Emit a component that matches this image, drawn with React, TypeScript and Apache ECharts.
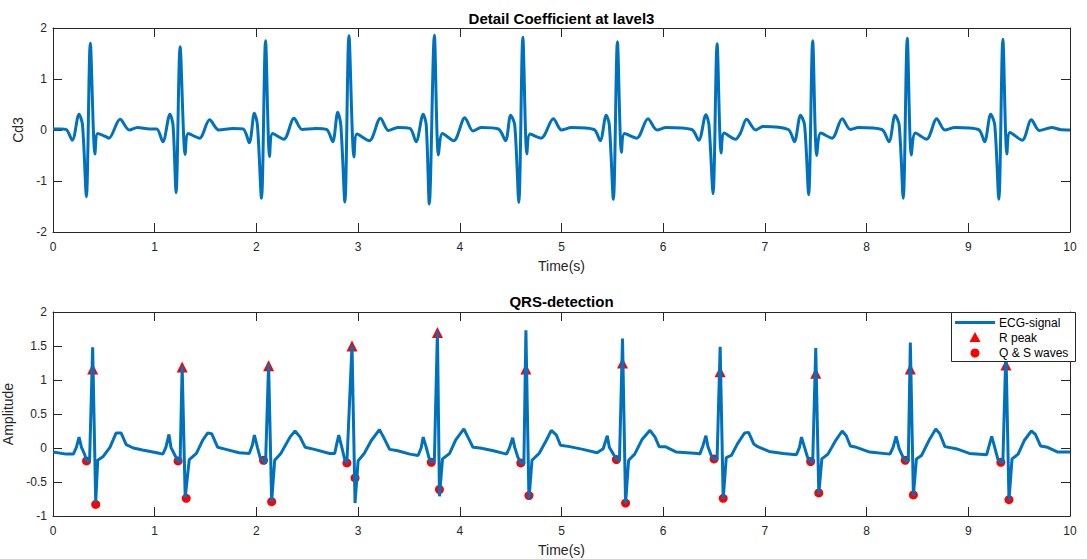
import React, { useEffect, useRef } from "react";
import * as echarts from "echarts";

// Top panel: detail coefficient Cd3 [time(s), value]
const cd3Points: [number, number][] = [
  [0, 0.02], [0.08, 0.02], [0.13, 0.01], [0.19, -0.2], [0.256, 0.31], [0.29, 0.1], [0.328, -1.31], [0.367, 1.7], [0.413, -0.47], [0.44, -0.07], [0.52, -0.13], [0.55, -0.16], [0.66, 0.21], [0.75, 0], [0.83, 0.05], [0.95, 0.02], [1.02, 0.02],
  [1.08, -0.23], [1.15, 0.31], [1.18, 0.1], [1.21, -1.23], [1.25, 1.63], [1.3, -0.48], [1.33, -0.07], [1.44, -0.16], [1.54, 0.2], [1.63, 0], [1.77, 0.03], [1.87, 0.02],
  [1.93, -0.25], [1.98, 0.33], [2.01, 0.1], [2.05, -1.34], [2.09, 1.75], [2.13, -0.52], [2.16, -0.07], [2.27, -0.18], [2.37, 0.23], [2.45, 0.01], [2.58, 0.03], [2.69, 0.01],
  [2.75, -0.23], [2.8, 0.35], [2.83, 0.1], [2.87, -1.41], [2.91, 1.85], [2.96, -0.53], [2.99, -0.08], [3.11, -0.21], [3.22, 0.23], [3.3, -0.01], [3.39, 0.05], [3.51, 0.03],
  [3.57, -0.23], [3.64, 0.31], [3.67, 0.1], [3.7, -1.45], [3.75, 1.86], [3.79, -0.49], [3.83, -0.07], [3.94, -0.21], [4.05, 0.24], [4.13, -0.02], [4.21, 0.05], [4.38, 0.02],
  [4.45, -0.21], [4.5, 0.29], [4.54, 0.1], [4.58, -1.42], [4.62, 1.82], [4.66, -0.47], [4.69, -0.08], [4.8, -0.16], [4.92, 0.22], [5.0, 0], [5.1, 0.05], [5.32, 0.01],
  [5.38, -0.21], [5.44, 0.29], [5.47, 0.1], [5.51, -1.36], [5.55, 1.73], [5.59, -0.44], [5.62, -0.07], [5.74, -0.16], [5.85, 0.22], [5.94, 0], [6.03, 0.05], [6.28, 0.01],
  [6.35, -0.2], [6.42, 0.3], [6.45, 0.1], [6.49, -1.25], [6.53, 1.69], [6.57, -0.45], [6.6, -0.06], [6.71, -0.18], [6.76, -0.06], [6.82, 0.21], [6.91, 0], [6.98, 0.07], [7.23, 0.01],
  [7.29, -0.23], [7.35, 0.29], [7.39, 0.1], [7.43, -1.27], [7.47, 1.75], [7.51, -0.5], [7.55, -0.06], [7.66, -0.16], [7.76, 0.22], [7.84, 0.01], [7.92, 0.05], [8.15, 0.01],
  [8.22, -0.23], [8.28, 0.29], [8.32, 0.1], [8.36, -1.34], [8.4, 1.8], [8.44, -0.49], [8.48, -0.06], [8.59, -0.18], [8.69, 0.22], [8.77, 0], [8.87, 0.05], [9.1, 0.01],
  [9.16, -0.23], [9.22, 0.31], [9.26, 0.1], [9.3, -1.36], [9.34, 1.78], [9.38, -0.47], [9.41, -0.05], [9.53, -0.2], [9.62, 0.2], [9.7, -0.01], [9.82, 0.05], [9.9, 0.01], [10, 0],
];

// Bottom panel: ECG signal [time(s), amplitude]
const ecgPoints: [number, number][] = [
  [0, -0.06], [0.13, -0.09], [0.2, -0.09], [0.23, 0.01], [0.256, 0.16], [0.28, 0.01], [0.31, -0.09], [0.33, -0.19], [0.36, -0.18], [0.39, 1.48], [0.42, -0.8], [0.44, -0.18], [0.49, -0.13], [0.56, 0.01], [0.62, 0.22], [0.67, 0.22], [0.72, 0.05], [0.79, 0], [0.88, -0.03], [1.02, -0.07], [1.08, -0.09],
  [1.11, 0.01], [1.14, 0.2], [1.16, 0.01], [1.2, -0.11], [1.23, -0.19], [1.25, -0.19], [1.27, 1.2], [1.3, -0.73], [1.34, -0.17], [1.41, -0.08], [1.47, 0.11], [1.52, 0.22], [1.56, 0.21], [1.62, 0.01], [1.7, -0.02], [1.83, -0.07], [1.93, -0.08],
  [1.96, 0.04], [1.98, 0.19], [2.01, 0.01], [2.04, -0.16], [2.07, -0.18], [2.09, -0.23], [2.12, 1.23], [2.15, -0.79], [2.18, -0.18], [2.24, -0.08], [2.33, 0.16], [2.38, 0.25], [2.43, 0.16], [2.48, 0.01], [2.57, -0.02], [2.72, -0.08], [2.77, -0.08],
  [2.79, 0.06], [2.81, 0.19], [2.84, 0.01], [2.87, -0.18], [2.89, -0.22], [2.94, 1.51], [2.97, -0.81], [3.0, -0.19], [3.06, -0.08], [3.13, 0.11], [3.21, 0.27], [3.25, 0.16], [3.31, -0.02], [3.39, -0.04], [3.51, -0.09], [3.59, -0.11],
  [3.62, 0.0], [3.64, 0.16], [3.67, 0.01], [3.7, -0.16], [3.72, -0.21], [3.75, -0.18], [3.78, 1.72], [3.8, -0.71], [3.83, -0.16], [3.9, -0.08], [3.96, 0.12], [4.04, 0.28], [4.08, 0.16], [4.13, 0.01], [4.2, 0], [4.33, -0.04], [4.46, -0.09],
  [4.49, 0.01], [4.52, 0.15], [4.54, 0.01], [4.57, -0.13], [4.6, -0.22], [4.63, -0.23], [4.65, 1.73], [4.68, -0.76], [4.71, -0.18], [4.78, -0.08], [4.85, 0.11], [4.9, 0.26], [4.95, 0.19], [4.99, 0.04], [5.08, 0.02], [5.21, -0.02], [5.35, -0.07],
  [5.41, -0.01], [5.45, 0.18], [5.47, 0.01], [5.51, -0.09], [5.54, -0.17], [5.57, -0.18], [5.6, 1.61], [5.63, -0.82], [5.66, -0.18], [5.72, -0.09], [5.79, 0.12], [5.87, 0.26], [5.92, 0.16], [5.96, 0.02], [6.02, 0.02], [6.13, -0.06], [6.34, -0.08],
  [6.36, -0.09], [6.39, 0.03], [6.42, 0.18], [6.44, 0.02], [6.48, -0.14], [6.5, -0.16], [6.53, -0.16], [6.56, 1.49], [6.59, -0.75], [6.62, -0.14], [6.67, -0.11], [6.73, 0.06], [6.8, 0.22], [6.84, 0.23], [6.89, 0.06], [6.93, 0.02], [7.04, -0.05], [7.18, -0.08], [7.31, -0.1],
  [7.34, 0.01], [7.36, 0.16], [7.39, 0.01], [7.42, -0.14], [7.45, -0.2], [7.47, -0.21], [7.5, 1.47], [7.53, -0.68], [7.56, -0.16], [7.62, -0.09], [7.7, 0.12], [7.76, 0.25], [7.8, 0.18], [7.84, 0.03], [7.9, 0.01], [8.03, -0.06], [8.23, -0.09],
  [8.26, 0.01], [8.29, 0.17], [8.32, -0.01], [8.36, -0.14], [8.38, -0.18], [8.41, -0.19], [8.43, 1.55], [8.46, -0.7], [8.49, -0.16], [8.54, -0.11], [8.62, 0.13], [8.68, 0.28], [8.72, 0.21], [8.77, 0.02], [8.88, -0.01], [9.01, -0.08], [9.18, -0.1],
  [9.2, 0.01], [9.23, 0.17], [9.26, 0.01], [9.29, -0.16], [9.32, -0.21], [9.34, -0.21], [9.37, 1.45], [9.4, -0.77], [9.43, -0.16], [9.49, -0.09], [9.55, 0.11], [9.62, 0.25], [9.66, 0.2], [9.71, 0.03], [9.78, 0.01], [9.88, -0.06], [10, -0.06],
];

// Detected R peaks
const rPeakPoints: [number, number][] = [
  [0.39, 1.16], [1.27, 1.19], [2.12, 1.21], [2.94, 1.5], [3.78, 1.7], [4.65, 1.16],
  [5.6, 1.25], [6.56, 1.12], [7.5, 1.1], [8.43, 1.16], [9.37, 1.22],
];

// Detected Q and S waves
const qsPoints: [number, number][] = [
  [0.33, -0.19], [1.23, -0.19], [2.07, -0.18], [2.89, -0.22], [3.72, -0.21], [4.6, -0.22],
  [5.54, -0.17], [6.5, -0.16], [7.45, -0.2], [8.38, -0.18], [9.32, -0.21],
  [0.42, -0.83], [1.31, -0.74], [2.15, -0.79], [2.97, -0.44], [3.8, -0.61], [4.68, -0.7],
  [5.63, -0.81], [6.59, -0.74], [7.53, -0.66], [8.46, -0.69], [9.4, -0.76],
];

const titles = ["Detail Coefficient at lavel3", "QRS-detection"];
const legendNames = ["ECG-signal", "R peak", "Q & S waves"];

const AX = "#262626";
const FONT = "'Liberation Sans', Arial, Helvetica, sans-serif";
const BLUE = "#0072BD";
const RED = "#FF0000";

function xAxes(grid: number) {
  const base = {
    gridIndex: grid,
    type: "value" as const,
    min: 0,
    max: 10,
    interval: 1,
    splitLine: { show: false },
    axisLine: { show: true, onZero: false, lineStyle: { color: AX, width: 1 } },
    axisTick: { show: true, inside: true, length: 9, lineStyle: { color: AX } },
  };
  return [
    {
      ...base,
      position: "bottom",
      axisLabel: { show: true, color: AX, fontSize: 12, fontFamily: FONT, margin: 9 },
      name: "Time(s)",
      nameLocation: "middle",
      nameGap: 27,
      nameTextStyle: { color: AX, fontSize: 14, fontFamily: FONT },
    },
    { ...base, position: "top", axisLabel: { show: false } },
  ];
}

function yAxes(grid: number, min: number, max: number, interval: number, name: string, gap: number) {
  const base = {
    gridIndex: grid,
    type: "value" as const,
    min,
    max,
    interval,
    splitLine: { show: false },
    axisLine: { show: true, onZero: false, lineStyle: { color: AX, width: 1 } },
    axisTick: { show: true, inside: true, length: 9, lineStyle: { color: AX } },
  };
  return [
    {
      ...base,
      position: "left",
      axisLabel: { show: true, color: AX, fontSize: 12, fontFamily: FONT, margin: 6 },
      name,
      nameLocation: "middle",
      nameRotate: 90,
      nameGap: gap,
      nameTextStyle: { color: AX, fontSize: 14, fontFamily: FONT },
    },
    { ...base, position: "right", axisLabel: { show: false } },
  ];
}

function legendGraphic() {
  const x0 = 951;
  const y0 = 312;
  const rows = [322.5, 337.5, 353];
  const iconCx = 975;
  const textX = 999;
  const els: any[] = [
    {
      type: "rect",
      z: 100,
      shape: { x: x0 + 0.5, y: y0 + 0.5, width: 124, height: 49 },
      style: { fill: "#fff", stroke: AX, lineWidth: 1 },
    },
    {
      type: "line",
      z: 101,
      shape: { x1: 955, y1: rows[0], x2: 995, y2: rows[0] },
      style: { stroke: BLUE, lineWidth: 3 },
    },
    {
      type: "polygon",
      z: 101,
      shape: {
        points: [
          [iconCx, rows[1] - 5.5],
          [iconCx + 5.5, rows[1] + 4.5],
          [iconCx - 5.5, rows[1] + 4.5],
        ],
      },
      style: { fill: RED },
    },
    {
      type: "circle",
      z: 101,
      shape: { cx: iconCx, cy: rows[2], r: 4.5 },
      style: { fill: RED },
    },
  ];
  legendNames.forEach((n, i) => {
    els.push({
      type: "text",
      z: 101,
      x: textX,
      y: rows[i],
      style: {
        text: n,
        fill: "#000",
        font: `12px ${FONT}`,
        align: "left",
        textAlign: "left",
        verticalAlign: "middle",
        textVerticalAlign: "middle",
      },
    });
  });
  return els;
}

export default function App() {
  const ref = useRef<HTMLDivElement>(null);
  useEffect(() => {
    document.body.style.margin = "0";
    if (!ref.current) return;
    const chart = echarts.init(ref.current, null, { renderer: "svg" });
    chart.setOption({
      animation: false,
      backgroundColor: "#fff",
      grid: [
        { left: 53, width: 1017, top: 28, height: 204, show: false, containLabel: false, outerBoundsMode: "none" },
        { left: 53, width: 1017, top: 312, height: 204, show: false, containLabel: false, outerBoundsMode: "none" },
      ],
      xAxis: [...xAxes(0), ...xAxes(1)],
      yAxis: [...yAxes(0, -2, 2, 1, "Cd3", 19), ...yAxes(1, -1, 2, 0.5, "Amplitude", 30)],
      graphic: [
        {
          type: "text",
          x: 561.5,
          y: 18,
          style: {
            text: titles[0],
            fill: "#000",
            font: `bold 15px ${FONT}`,
            align: "center",
            textAlign: "center",
            verticalAlign: "middle",
            textVerticalAlign: "middle",
          },
        },
        {
          type: "text",
          x: 561.5,
          y: 301,
          style: {
            text: titles[1],
            fill: "#000",
            font: `bold 15px ${FONT}`,
            align: "center",
            textAlign: "center",
            verticalAlign: "middle",
            textVerticalAlign: "middle",
          },
        },
        ...legendGraphic(),
      ],
      series: [
        {
          name: "Cd3",
          type: "line",
          xAxisIndex: 0,
          yAxisIndex: 0,
          data: cd3Points,
          symbol: "none",
          showSymbol: false,
          smooth: 0.3,
          lineStyle: { color: BLUE, width: 3 },
          itemStyle: { color: BLUE },
        },
        {
          name: legendNames[0],
          type: "line",
          xAxisIndex: 2,
          yAxisIndex: 2,
          data: ecgPoints,
          symbol: "none",
          showSymbol: false,
          lineStyle: { color: BLUE, width: 3 },
          itemStyle: { color: BLUE },
        },
        {
          name: legendNames[1],
          type: "scatter",
          xAxisIndex: 2,
          yAxisIndex: 2,
          data: rPeakPoints,
          symbol: "triangle",
          symbolSize: 11,
          itemStyle: { color: RED, opacity: 1 },
        },
        {
          name: legendNames[2],
          type: "scatter",
          xAxisIndex: 2,
          yAxisIndex: 2,
          data: qsPoints,
          symbol: "circle",
          symbolSize: 9,
          itemStyle: { color: RED, opacity: 1 },
        },
      ],
    });
    return () => chart.dispose();
  }, []);
  return (
    <div
      ref={ref}
      style={{ position: "absolute", left: 0, top: 0, width: 1087, height: 559 }}
    />
  );
}
